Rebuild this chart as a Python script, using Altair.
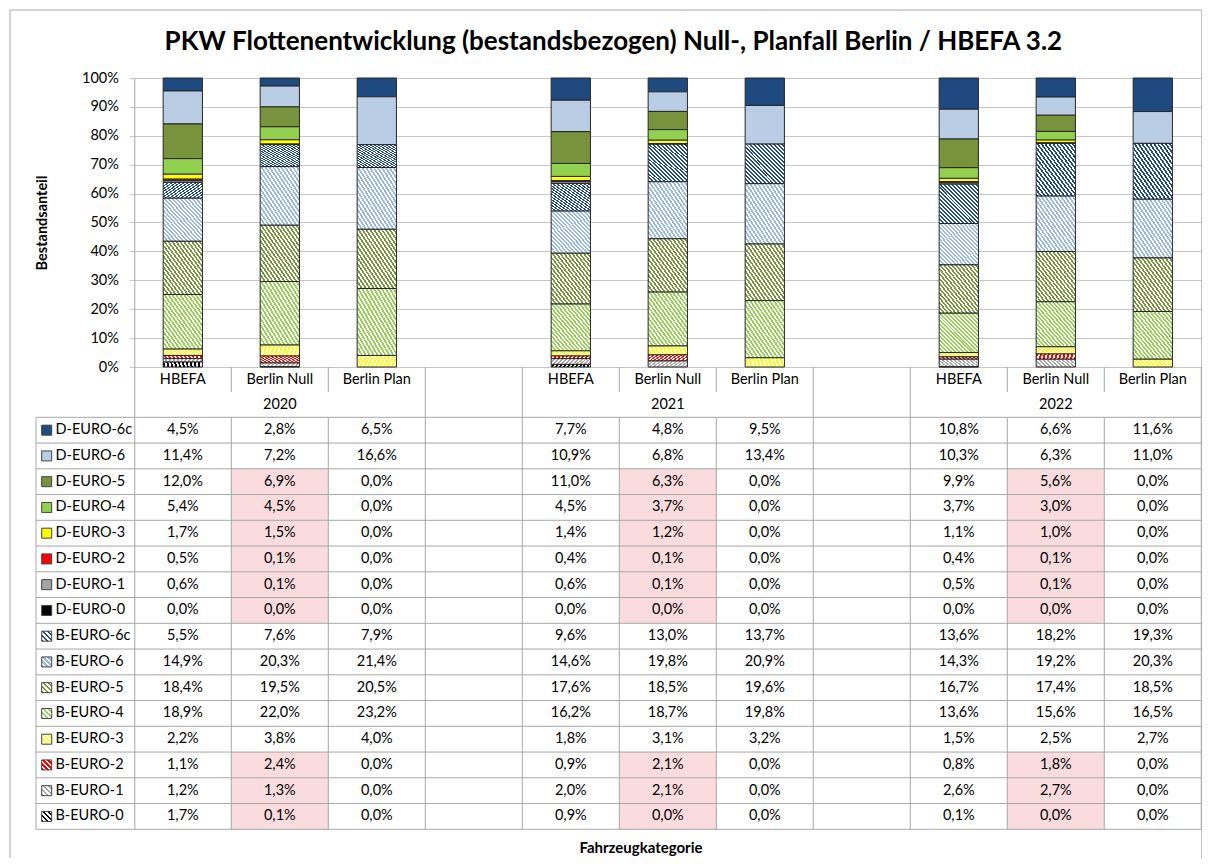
import altair as alt
import pandas as pd

# ---------------- data ----------------
series = ["D-EURO-6c", "D-EURO-6", "D-EURO-5", "D-EURO-4", "D-EURO-3", "D-EURO-2", "D-EURO-1", "D-EURO-0",
          "B-EURO-6c", "B-EURO-6", "B-EURO-5", "B-EURO-4", "B-EURO-3", "B-EURO-2", "B-EURO-1", "B-EURO-0"]
years = ["2020", "2021", "2022"]
scenarios = ["HBEFA", "Berlin Null", "Berlin Plan"]

hbefa_2020 = [4.5, 11.4, 12.0, 5.4, 1.7, 0.5, 0.6, 0.0, 5.5, 14.9, 18.4, 18.9, 2.2, 1.1, 1.2, 1.7]
null_2020 = [2.8, 7.2, 6.9, 4.5, 1.5, 0.1, 0.1, 0.0, 7.6, 20.3, 19.5, 22.0, 3.8, 2.4, 1.3, 0.1]
plan_2020 = [6.5, 16.6, 0.0, 0.0, 0.0, 0.0, 0.0, 0.0, 7.9, 21.4, 20.5, 23.2, 4.0, 0.0, 0.0, 0.0]
hbefa_2021 = [7.7, 10.9, 11.0, 4.5, 1.4, 0.4, 0.6, 0.0, 9.6, 14.6, 17.6, 16.2, 1.8, 0.9, 2.0, 0.9]
null_2021 = [4.8, 6.8, 6.3, 3.7, 1.2, 0.1, 0.1, 0.0, 13.0, 19.8, 18.5, 18.7, 3.1, 2.1, 2.1, 0.0]
plan_2021 = [9.5, 13.4, 0.0, 0.0, 0.0, 0.0, 0.0, 0.0, 13.7, 20.9, 19.6, 19.8, 3.2, 0.0, 0.0, 0.0]
hbefa_2022 = [10.8, 10.3, 9.9, 3.7, 1.1, 0.4, 0.5, 0.0, 13.6, 14.3, 16.7, 13.6, 1.5, 0.8, 2.6, 0.1]
null_2022 = [6.6, 6.3, 5.6, 3.0, 1.0, 0.1, 0.1, 0.0, 18.2, 19.2, 17.4, 15.6, 2.5, 1.8, 2.7, 0.0]
plan_2022 = [11.6, 11.0, 0.0, 0.0, 0.0, 0.0, 0.0, 0.0, 19.3, 20.3, 18.5, 16.5, 2.7, 0.0, 0.0, 0.0]

values = {
    ("2020", "HBEFA"): hbefa_2020, ("2020", "Berlin Null"): null_2020, ("2020", "Berlin Plan"): plan_2020,
    ("2021", "HBEFA"): hbefa_2021, ("2021", "Berlin Null"): null_2021, ("2021", "Berlin Plan"): plan_2021,
    ("2022", "HBEFA"): hbefa_2022, ("2022", "Berlin Null"): null_2022, ("2022", "Berlin Plan"): plan_2022,
}

highlight_scenario = "Berlin Null"
highlight_series = ["D-EURO-5", "D-EURO-4", "D-EURO-3", "D-EURO-2", "D-EURO-1", "D-EURO-0",
                    "B-EURO-2", "B-EURO-1", "B-EURO-0"]

title_text = "PKW Flottenentwicklung (bestandsbezogen) Null-, Planfall Berlin / HBEFA 3.2"

# ---------------- styles ----------------
solid_colors = {"D-EURO-6c": "#1F4A80", "D-EURO-6": "#B9CDE5", "D-EURO-5": "#77933C", "D-EURO-4": "#92D050",
                "D-EURO-3": "#FFFF00", "D-EURO-2": "#FF0000", "D-EURO-1": "#A6A6A6", "D-EURO-0": "#000000"}
hatch_colors = {"B-EURO-6c": "#1F4A80", "B-EURO-6": "#95B7E2", "B-EURO-5": "#77933C", "B-EURO-4": "#92D050",
                "B-EURO-3": "#FFFF00", "B-EURO-2": "#FF0000", "B-EURO-1": "#A6A6A6", "B-EURO-0": "#000000"}
PINK = "#FADCDE"
TABLE_LINE = "#A6A6A6"
GRID = "#C6C6C6"
EDGE = "#262626"
FONT = "Lato"
FS = 14.5

# ---------------- layout (pixels of the page) ----------------
PX_X0, COL_W, NCOL = 134.3, 97.0, 11
PX_TOP, PX_ZERO, PX_BOT = 78.0, 367.0, 829.3
PX_ROW0, ROW_H = 417.3, 25.75
UNIT = PX_ZERO - PX_TOP
BAR_HALF = 0.2025


def xu(px):
    return (px - PX_X0) / COL_W


def yu(px):
    return (PX_ZERO - px) / UNIT


Y_ROW0 = yu(PX_ROW0)
ROW_U = ROW_H / UNIT

x_scale = alt.Scale(domain=[0, NCOL], nice=False, zero=False)
y_scale = alt.Scale(domain=[yu(PX_BOT), 1.0], nice=False, zero=False)

x_axis = alt.Axis(title="Fahrzeugkategorie", labels=False, ticks=False, domain=False, grid=False,
                  titleFont=FONT, titleFontSize=15, titleFontWeight="bold", titleColor="black",
                  titleX=640.5 - PX_X0, titleY=853 - PX_BOT, titleAlign="center", titleBaseline="alphabetic")
y_axis = alt.Axis(values=[round(i * 0.1, 1) for i in range(11)], format=".0%", title="Bestandsanteil",
                  labelFont=FONT, labelFontSize=FS, labelColor="black", labelPadding=11,
                  tickSize=5, tickColor=GRID, domainColor=TABLE_LINE, gridColor=GRID, grid=True,
                  titleFont=FONT, titleFontSize=FS, titleFontWeight="bold", titleColor="black",
                  titleAngle=270, titleX=43 - PX_X0, titleY=(PX_TOP + PX_ZERO) / 2 - PX_TOP,
                  titleAlign="center", titleBaseline="middle")


def X(f):
    return alt.X(f, type="quantitative", scale=x_scale, axis=x_axis)


def Y(f):
    return alt.Y(f, type="quantitative", scale=y_scale, axis=y_axis)


def hatch(color, n, frac=0.5):
    stops = []
    for i in range(n):
        a, b, c = i / n, (i + frac) / n, (i + 1) / n
        stops += [alt.GradientStop(color=color, offset=a), alt.GradientStop(color=color, offset=b),
                  alt.GradientStop(color="white", offset=b), alt.GradientStop(color="white", offset=c)]
    return alt.LinearGradient(gradient="linear", stops=stops, x1=0, y1=1, x2=1, y2=0)


# ---------------- tables ----------------
rows = []
for yi, yr in enumerate(years):
    for si, sc in enumerate(scenarios):
        vals = values[(yr, sc)]
        for ri, s in enumerate(series):
            rows.append(dict(series=s, year=yr, scenario=sc, value=vals[ri], row=ri,
                             col=yi * 4 + si, order=len(series) - 1 - ri,
                             hl=(sc == highlight_scenario and s in highlight_series)))
df = pd.DataFrame(rows)

cat_df = pd.DataFrame([dict(label=sc, col=yi * 4 + si) for yi in range(len(years))
                       for si, sc in enumerate(scenarios)])
year_df = pd.DataFrame([dict(label=yr, col=yi * 4 + 1) for yi, yr in enumerate(years)])
ser_df = pd.DataFrame([dict(series=s, row=i) for i, s in enumerate(series)])

d_series = [s for s in series if s in solid_colors]
b_series = [s for s in series if s in hatch_colors]

# table grid segments
hl_rows = [dict(x0=xu(36), x1=NCOL, y=Y_ROW0 - k * ROW_U) for k in range(len(series) + 1)]
vl_rows = [dict(x=xu(36), y0=Y_ROW0, y1=yu(PX_BOT))]
for yi in range(len(years)):
    for c in (yi * 4 + 1, yi * 4 + 2):
        vl_rows.append(dict(x=c, y0=0.0, y1=yu(392)))
        vl_rows.append(dict(x=c, y0=Y_ROW0, y1=yu(PX_BOT)))
    vl_rows.append(dict(x=yi * 4 + 3, y0=0.0, y1=yu(PX_BOT)))
    if yi < len(years) - 1:
        vl_rows.append(dict(x=yi * 4 + 4, y0=0.0, y1=yu(PX_BOT)))
hl_df = pd.DataFrame(hl_rows)
vl_df = pd.DataFrame(vl_rows)

frame_df = pd.DataFrame([dict(x0=xu(10), x1=xu(1201.8), y0=yu(10), y1=yu(890))])
title_df = pd.DataFrame([dict(t=title_text, x=xu(613.4), y=yu(50))])

layers = []

# outer frame
layers.append(alt.Chart(frame_df).mark_rect(fillOpacity=0, stroke=TABLE_LINE, strokeWidth=1).encode(
    x=X("x0"), x2="x1", y=Y("y0"), y2="y1"))

# pink highlighted cells
layers.append(alt.Chart(df).transform_filter("datum.hl").transform_calculate(
    c1="datum.col + 1", r0=f"{Y_ROW0} - datum.row * {ROW_U}", r1=f"{Y_ROW0} - (datum.row + 1) * {ROW_U}"
).mark_rect(fill=PINK).encode(x=X("col"), x2="c1", y=Y("r0"), y2="r1"))

# stacked bars
bar_base = alt.Chart(df).transform_stack(
    stack="value", groupby=["col"], sort=[alt.SortField("order", order="ascending")],
    offset="normalize", as_=["y0", "y1"]
).transform_filter("datum.value > 0").transform_calculate(
    bx0=f"datum.col + 0.5 - {BAR_HALF}", bx1=f"datum.col + 0.5 + {BAR_HALF}")

layers.append(bar_base.transform_filter(alt.FieldOneOfPredicate(field="series", oneOf=d_series)).mark_bar(
    stroke=EDGE, strokeWidth=1).encode(
    x=X("bx0"), x2="bx1", y=Y("y0"), y2="y1",
    color=alt.Color("series:N", scale=alt.Scale(domain=d_series, range=[solid_colors[s] for s in d_series]),
                    legend=None)))
for s in b_series:
    layers.append(bar_base.transform_filter(alt.datum.series == s).mark_bar(
        fill=hatch(hatch_colors[s], 20), stroke=EDGE, strokeWidth=1).encode(
        x=X("bx0"), x2="bx1", y=Y("y0"), y2="y1"))

# table lines
layers.append(alt.Chart(hl_df).mark_rule(color=TABLE_LINE, strokeWidth=1).encode(x=X("x0"), x2="x1", y=Y("y")))
layers.append(alt.Chart(vl_df).mark_rule(color=TABLE_LINE, strokeWidth=1).encode(x=X("x"), y=Y("y0"), y2="y1"))

# legend swatches in the label column
sw = alt.Chart(ser_df).transform_calculate(
    sx0=f"{xu(41.7)}", sx1=f"{xu(51.7)}",
    sy0=f"{Y_ROW0} - (datum.row + 0.5) * {ROW_U} + {5 / UNIT}",
    sy1=f"{Y_ROW0} - (datum.row + 0.5) * {ROW_U} - {5 / UNIT}")
layers.append(sw.transform_filter(alt.FieldOneOfPredicate(field="series", oneOf=d_series)).mark_rect(
    stroke="#404040", strokeWidth=1).encode(
    x=X("sx0"), x2="sx1", y=Y("sy0"), y2="sy1",
    color=alt.Color("series:N", scale=alt.Scale(domain=d_series, range=[solid_colors[s] for s in d_series]),
                    legend=None)))
for s in b_series:
    layers.append(sw.transform_filter(alt.datum.series == s).mark_rect(
        fill=hatch(hatch_colors[s], 4, 0.45), stroke="#404040", strokeWidth=1).encode(
        x=X("sx0"), x2="sx1", y=Y("sy0"), y2="sy1"))

# series labels
layers.append(alt.Chart(ser_df).transform_calculate(
    tx=f"{xu(55.5)}", ty=f"{Y_ROW0} - (datum.row + 0.5) * {ROW_U}"
).mark_text(font=FONT, fontSize=FS, color="black", align="left", baseline="middle").encode(
    x=X("tx"), y=Y("ty"), text="series:N"))

# cell values
layers.append(alt.Chart(df).transform_calculate(
    label="replace(format(datum.value, '.1f'), '.', ',') + '%'",
    tx="datum.col + 0.5", ty=f"{Y_ROW0} - (datum.row + 0.5) * {ROW_U}"
).mark_text(font=FONT, fontSize=FS, color="black", align="center", baseline="middle").encode(
    x=X("tx"), y=Y("ty"), text="label:N"))

# category and year labels
layers.append(alt.Chart(cat_df).transform_calculate(tx="datum.col + 0.5", ty=f"{yu(380)}").mark_text(
    font=FONT, fontSize=FS, color="black", align="center", baseline="middle").encode(
    x=X("tx"), y=Y("ty"), text="label:N"))
layers.append(alt.Chart(year_df).transform_calculate(tx="datum.col + 0.5", ty=f"{yu(405)}").mark_text(
    font=FONT, fontSize=FS, color="black", align="center", baseline="middle").encode(
    x=X("tx"), y=Y("ty"), text="label:N"))

# chart title
layers.append(alt.Chart(title_df).mark_text(
    font=FONT, fontSize=26, fontWeight="bold", color="black", align="center", baseline="alphabetic").encode(
    x=X("x"), y=Y("y"), text="t:N"))

chart = alt.layer(*layers).properties(
    width=NCOL * COL_W, height=PX_BOT - PX_TOP,
    autosize=alt.AutoSizeParams(type="none"),
    padding={"left": PX_X0 - 8, "top": PX_TOP - 8, "right": 0.6, "bottom": 850 - (PX_BOT - 8)},
    background="white",
).configure_view(strokeWidth=0)

chart.save("out.html", embed_options={"renderer": "svg", "actions": False})
